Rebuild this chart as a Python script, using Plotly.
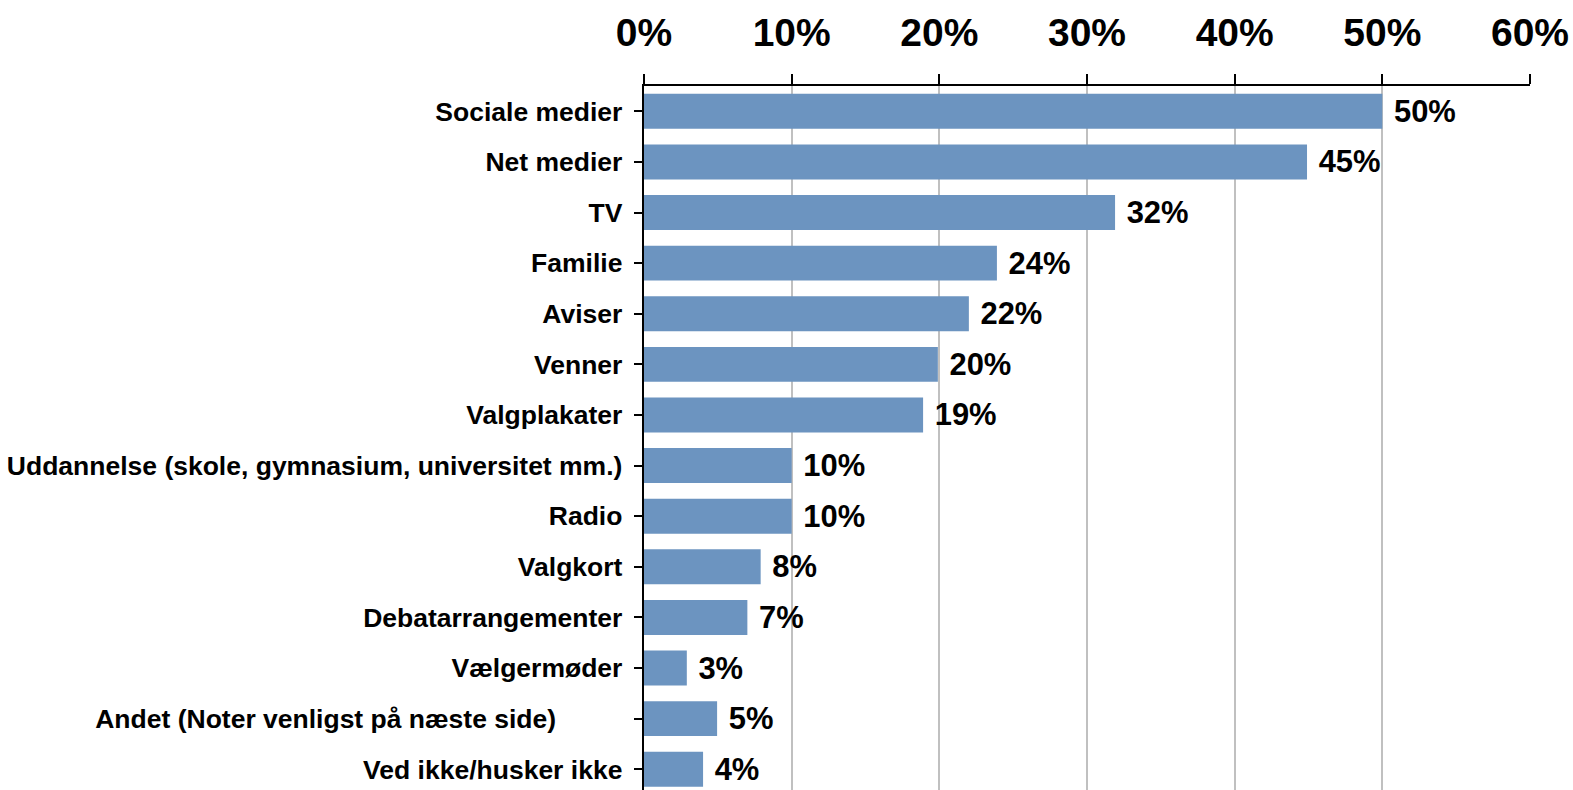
import plotly.graph_objects as go

categories = [
    "Sociale medier",
    "Net medier",
    "TV",
    "Familie",
    "Aviser",
    "Venner",
    "Valgplakater",
    "Uddannelse (skole, gymnasium, universitet mm.)",
    "Radio",
    "Valgkort",
    "Debatarrangementer",
    "Vælgermøder",
    "Andet (Noter venligst på næste side)",
    "Ved ikke/husker ikke",
]
values = [0.500, 0.449, 0.319, 0.239, 0.220, 0.199, 0.189, 0.100, 0.100, 0.079, 0.070, 0.029, 0.0495, 0.040]
tick_labels = [c + ("\u00a0" * 9 if c.startswith("Andet") else "") + "\u2009" for c in categories]
x_ticks = [0, 0.1, 0.2, 0.3, 0.4, 0.5, 0.6]

FONT = "Liberation Sans, Arial, sans-serif"

fig = go.Figure(
    go.Bar(
        x=values,
        y=list(range(len(categories))),
        orientation="h",
        marker=dict(color="#6C94C0", line=dict(width=0)),
        texttemplate="\u00a0%{x:.0%}",
        textposition="outside",
        textfont=dict(family=FONT, size=31, color="black", weight="bold"),
        cliponaxis=False,
        hoverinfo="skip",
    )
)

fig.update_layout(
    width=1573,
    height=790,
    margin=dict(l=644, r=43, t=86, b=0),
    paper_bgcolor="white",
    plot_bgcolor="white",
    bargap=0.31,
    showlegend=False,
    font=dict(family=FONT, color="black"),
)

fig.update_xaxes(
    side="top",
    range=[0, 0.6],
    tickvals=x_ticks,
    tickformat=".0%",
    tickfont=dict(family=FONT, size=39, color="black", weight="bold"),
    ticks="outside",
    ticklen=10,
    tickwidth=2,
    tickcolor="black",
    showline=True,
    linecolor="black",
    linewidth=2,
    showgrid=True,
    gridcolor="#C0C0C0",
    gridwidth=2,
    zeroline=False,
    ticklabelstandoff=12,
)

fig.update_yaxes(
    range=[13.41, -0.5],
    tickvals=list(range(len(categories))),
    ticktext=tick_labels,
    tickfont=dict(family=FONT, size=26.5, color="black", weight="bold"),
    ticks="outside",
    tickson="boundaries",
    ticklen=8,
    tickwidth=2,
    tickcolor="black",
    showline=True,
    linecolor="black",
    linewidth=2,
    showgrid=False,
    zeroline=False,
    ticklabelstandoff=1,
)

fig.write_html(
    "out.html",
    config={"displayModeBar": False},
    post_script="document.body.style.margin='0';document.body.style.overflow='hidden';",
)
